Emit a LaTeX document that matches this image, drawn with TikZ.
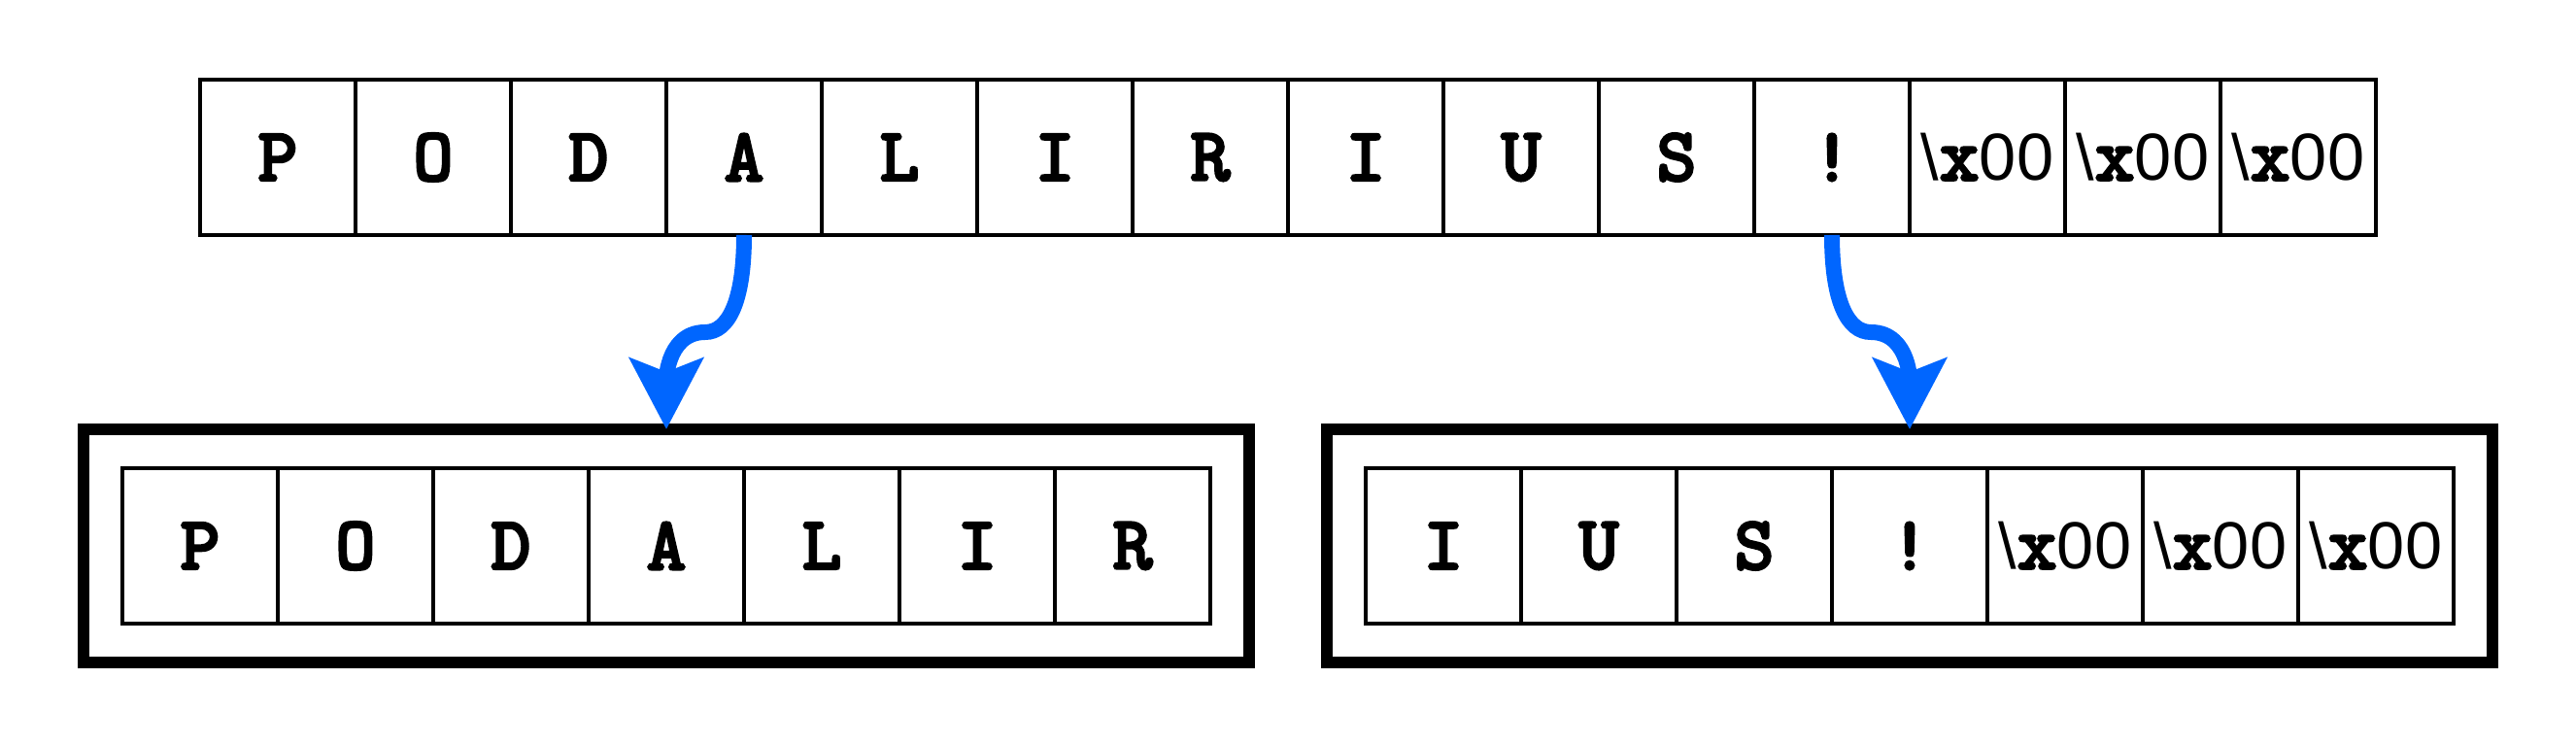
\documentclass[tikz,border=0pt]{standalone}
\usepackage{fontspec}
\setmonofont{lmmonolt10-bold.otf}[FakeBold=2.5]
\newfontfamily\digitfont{Liberation Sans}
\usetikzlibrary{arrows.meta,positioning}
\definecolor{splitblue}{RGB}{0,102,255}
\newcommand{\nulbyte}{{\digitfont\mdseries\fontsize{19}{19}\selectfont\textbackslash}x{\digitfont\mdseries\fontsize{19.5}{19}\selectfont 00}}
\tikzset{
  cell/.style={draw, line width=0.95pt, minimum size=1.6cm, inner sep=0pt, outer sep=0pt,
    font=\ttfamily\fontsize{22.5}{22}\selectfont},
  frame/.style={draw, line width=0.12cm, minimum width=12cm, minimum height=2.4cm, outer sep=0pt},
  split/.style={splitblue, line width=0.16cm,
    -{Stealth[length=0.73cm,width=0.75cm,inset=0.14cm]}}
}
\begin{document}
\begin{tikzpicture}
\useasboundingbox (0,0) rectangle (26.52,7.68);
\foreach \t [count=\i] in {P,O,D,A,L,I,R,I,U,S,!,\nulbyte,\nulbyte,\nulbyte}
  \node[cell] (top\i) at ({1.26+1.6*\i},6.06) {\t};
\node[frame] (head) at (6.86,2.06) {};
\node[frame] (tail) at (19.66,2.06) {};
\foreach \t [count=\i] in {P,O,D,A,L,I,R}
  \node[cell] (head\i) at ({0.46+1.6*\i},2.06) {\t};
\foreach \t [count=\i] in {I,U,S,!,\nulbyte,\nulbyte,\nulbyte}
  \node[cell] (tail\i) at ({13.26+1.6*\i},2.06) {\t};
\draw[split] (top4.south) .. controls +(0,-0.68) and +(0.24,0) .. ++(-0.4,-1)
  to[out=180,in=90] (head.north);
\draw[split] (top11.south) .. controls +(0,-0.68) and +(-0.24,0) .. ++(0.4,-1)
  to[out=0,in=90] (tail.north);
\end{tikzpicture}
\end{document}
